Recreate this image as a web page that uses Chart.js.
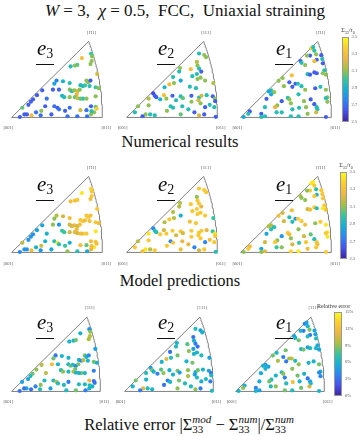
<!DOCTYPE html>
<html lang="en">
<head>
<meta charset="UTF-8">
<title>IPF stress maps</title>
<script src="https://cdn.jsdelivr.net/npm/chart.js"></script>
<style>
  body { margin: 0; background: #fff; }
  #fig { position: relative; width: 361px; height: 436px; overflow: hidden;
         font-family: "Liberation Serif", "DejaVu Serif", serif; color: #111; }
  #fig canvas { position: absolute; }
  .abs { position: absolute; white-space: nowrap; }
  .c { transform: translate(-50%, -50%); }
  .title { font-size: 17px; }
  .cap { font-size: 16.5px; }
  .elab { font-size: 21px; font-style: italic; line-height: 15px; padding: 0 1px 3px 1px;
          border-bottom: 1.2px solid #111; }
  .elab sub { font-style: normal; font-size: 14px; vertical-align: -3px; }
  .tiny { font-size: 4.5px; color: #555; }
  .cbl { font-size: 6px; color: #333; }
  .cbl sub { font-size: 4px; }
  .cbar { position: absolute; border: 0.8px solid #999; box-sizing: border-box; }
  .mm { display: inline-flex; flex-direction: column; vertical-align: 7px; line-height: 10px; font-size: 11px; }
</style>
</head>
<body>
<div id="fig">
  <div class="abs c title" style="left:185px; top:11px;"><i>W</i> = 3,&nbsp; <i>χ</i> = 0.5,&nbsp; FCC,&nbsp; Uniaxial straining</div>
  <div class="abs c cap" style="left:180px; top:142px;">Numerical results</div>
  <div class="abs c cap" style="left:180px; top:281px;">Model predictions</div>
  <div class="abs c cap" style="left:189px; top:424px;">Relative error |Σ<span class="mm"><i>mod</i><span>33</span></span> − Σ<span class="mm"><i>num</i><span>33</span></span>|/Σ<span class="mm"><i>num</i><span>33</span></span></div>
</div>
<script>
// grain positions in the [001]-[011]-[111] triangle ([011] at x = 100), one set per column
const posE3 = [[77.4,66.3],[87.5,71.0],[88.6,68.0],[88.2,63.0],[86.9,59.6],[69.7,57.9],[72.4,58.6],[65.0,56.9],[94.3,48.5],[49.5,41.1],
  [47.1,37.7],[56.6,40.4],[82.5,41.1],[84.2,39.4],[86.9,41.1],[64.0,38.4],[75.8,36.0],[78.5,35.0],[80.8,35.7],[85.9,35.0],
  [92.6,33.7],[96.0,32.7],[33.7,30.3],[45.5,31.0],[52.2,31.0],[64.0,31.0],[66.3,29.3],[69.0,30.3],[72.4,29.3],[75.1,31.0],
  [71.7,25.9],[64.0,22.6],[69.7,22.6],[72.4,21.5],[78.5,20.9],[82.5,20.9],[92.6,23.6],[27.9,24.9],[23.6,20.2],[38.7,20.9],
  [55.6,24.2],[57.9,22.6],[21.2,17.5],[18.5,14.1],[37.0,12.5],[47.1,12.5],[50.5,10.8],[52.2,9.1],[58.9,7.4],[64.0,10.8],
  [75.8,8.1],[82.5,8.1],[87.5,12.5],[92.6,11.8],[93.6,9.8],[90.9,5.7],[87.5,3.4],[11.8,10.8],[16.8,3.4],[14.1,3.4],
  [21.9,2.4],[26.9,5.7],[32.7,7.4],[32.0,2.4],[43.8,3.4],[61.6,1.3],[72.4,1.3],[83.2,1.3],[9.1,0.5],[88.0,7.0],
  [75.8,20.9]];
const posE2 = [[79.8,71.4],[85.5,69.7],[87.5,67.3],[77.4,62.0],[78.1,57.9],[79.8,54.5],[70.7,53.9],[58.9,55.2],[57.9,51.2],[82.2,51.2],
  [77.4,48.5],[72.4,46.1],[81.5,44.4],[86.5,41.1],[51.2,45.1],[78.1,42.8],[59.6,41.1],[47.1,37.0],[52.2,38.4],[95.5,38.4],
  [69.7,34.3],[76.4,32.7],[41.8,33.7],[29.3,26.9],[31.0,24.2],[32.7,22.6],[41.1,24.9],[43.8,20.9],[24.2,20.9],[37.0,20.2],
  [50.5,24.2],[59.6,23.6],[62.0,21.5],[71.4,24.2],[79.8,22.2],[82.5,24.2],[88.2,24.9],[94.9,23.6],[97.3,20.9],[97.6,18.2],
  [81.5,15.8],[71.4,17.5],[79.1,19.2],[54.5,19.2],[48.5,12.5],[51.2,10.8],[61.3,12.5],[68.0,9.1],[86.5,11.4],[91.6,14.1],
  [96.6,11.4],[12.5,12.5],[9.1,5.7],[20.9,3.4],[25.9,3.4],[17.5,1.3],[31.0,2.4],[44.4,7.4],[74.7,5.7],[79.8,2.4],
  [85.5,3.4],[98.3,0.7],[59.6,3.4],[24.2,13.5]];
const posE1 = [[77.9,77.2],[79.9,78.5],[81.2,74.5],[83.2,70.5],[76.5,69.1],[73.2,69.1],[88.9,69.5],[83.9,64.4],[81.2,62.8],[89.9,65.1],
  [90.6,60.4],[71.1,58.4],[66.0,63.0],[67.1,61.0],[56.4,47.0],[46.3,44.0],[73.8,48.3],[76.5,47.7],[81.2,50.3],[92.3,52.7],
  [94.0,47.7],[90.6,49.3],[83.9,49.3],[41.9,40.9],[53.7,39.3],[60.4,37.6],[63.1,37.6],[67.1,34.9],[71.1,30.9],[47.7,34.9],
  [57.0,34.2],[82.2,32.6],[87.9,34.2],[94.0,30.9],[95.6,22.5],[94.0,21.5],[63.8,25.8],[33.6,30.2],[36.9,28.2],[30.9,29.2],
  [28.5,20.8],[33.6,25.8],[52.0,21.8],[53.7,20.1],[45.3,18.1],[40.3,13.4],[37.9,11.4],[26.8,11.4],[77.2,20.1],[69.8,18.1],
  [55.4,15.8],[81.2,14.8],[83.9,11.4],[84.6,9.1],[83.2,5.7],[72.1,11.4],[64.4,10.7],[57.0,9.1],[45.3,5.7],[39.6,5.7],
  [22.8,4.0],[26.8,1.3],[10.1,6.7],[8.4,4.0],[3.4,0.5],[22.8,0.5],[55.4,1.3],[63.8,1.3],[73.8,4.0],[94.0,0.5],
  [95.6,17.4]];

// Sigma33 / tau0, numerical results
const numE3 = [3.3,3.0,3.1,3.1,3.1,3.1,3.05,2.95,3.2,2.75, 2.85,2.9,3.1,3.1,2.65,2.95,2.95,2.9,3.0,2.95,
  3.0,3.1,2.65,2.65,2.65,3.1,2.95,3.1,3.2,3.1, 3.25,3.1,3.05,3.2,2.95,3.1,3.1,2.65,2.65,2.7,
  2.9,2.95,2.65,2.65,2.65,2.7,2.65,2.7,2.65,2.7, 3.2,2.7,2.65,3.05,3.35,3.1,3.1,3.05,2.65,2.65,
  3.3,2.7,3.1,2.7,2.65,2.7,2.7,2.7,2.65,2.95, 3.05];
const numE2 = [2.95,3.1,3.1,3.15,3.1,2.95,3.3,3.1,2.95,2.65, 2.95,2.95,3.1,3.1,2.95,3.1,2.85,3.3,3.1,3.15,
  2.95,2.95,2.9,2.6,2.65,2.65,3.3,3.1,3.15,2.9, 2.65,2.95,3.05,2.65,2.95,3.2,2.95,2.65,3.1,2.65,
  3.1,3.1,3.2,2.95,2.95,2.95,2.95,2.95,2.65,2.95, 2.95,3.1,2.95,3.1,2.95,2.65,2.95,3.1,2.65,3.2,
  2.65,2.65,3.05,3.1];
const numE1 = [3.35,2.95,2.95,3.1,2.65,3.1,2.65,2.65,3.3,2.95, 2.65,3.1,2.65,2.95,3.3,3.1,2.95,2.65,2.65,2.95,
  3.1,3.1,2.65,3.1,2.65,2.65,2.95,2.95,3.1,3.1, 2.65,2.65,2.95,3.1,3.1,2.95,2.95,2.95,3.1,2.85,
  2.65,2.85,2.95,3.1,2.65,3.1,3.25,2.95,2.65,3.1, 3.1,2.65,2.95,2.95,3.2,3.1,2.95,2.95,2.95,2.95,
  2.65,2.95,2.65,2.95,2.85,2.95,2.95,2.95,3.1,2.65, 3.1];

// Sigma33 / tau0, model predictions
const modE3 = [3.45,3.4,3.35,3.35,3.3,3.3,3.35,3.3,3.35,3.15, 3.1,3.2,3.35,3.35,3.3,3.3,3.35,3.35,3.3,3.3,
  3.35,3.3,2.85,3.1,2.8,3.2,3.2,3.25,3.2,3.3, 3.3,3.2,3.25,3.2,3.3,3.35,3.45,2.85,2.8,2.9,
  3.0,3.0,2.8,2.8,2.9,2.95,3.45,2.95,3.0,2.9, 3.3,3.05,3.3,3.35,3.3,3.45,3.25,3.15,2.8,2.8,
  3.3,2.9,3.2,2.8,2.85,3.1,2.95,2.85,2.75,3.3, 3.3];
const modE2 = [3.35,3.35,3.35,3.1,3.35,3.35,3.35,3.15,3.15,3.25, 3.35,3.35,3.35,3.35,3.15,3.35,2.9,3.35,3.15,3.0,
  3.3,3.35,3.15,2.75,2.95,2.95,3.2,3.35,3.45,3.35, 3.35,3.35,3.2,3.35,3.35,3.35,3.25,3.0,3.45,3.35,
  3.35,3.35,3.35,3.2,2.75,3.35,3.25,3.25,2.75,3.3, 3.35,3.15,3.35,3.45,3.15,3.3,3.35,3.35,2.75,3.2,
  3.35,2.95,3.3,3.35];
const modE1 = [3.45,3.45,3.35,2.95,3.35,3.1,3.35,2.9,3.35,3.35, 3.35,3.1,3.15,3.1,3.3,3.2,3.2,3.3,3.35,3.35,
  3.3,3.45,2.95,3.3,2.95,2.8,3.35,3.35,3.3,3.2, 2.95,3.1,3.35,3.45,3.45,3.35,3.1,3.15,2.95,3.15,
  2.85,2.95,3.35,3.3,2.8,3.1,3.35,3.2,3.05,3.2, 3.1,2.95,3.35,3.3,3.35,3.35,3.0,3.2,3.1,3.0,
  2.85,3.25,3.3,3.35,3.1,3.1,3.4,3.45,3.3,3.35, 3.45];

// relative error in %
const errE3 = [6,4.5,9,10,9.5,6,8.5,6,5,3, 8.5,6,8.5,6,4,6,6,3.5,10,6,
  8.5,6,10,12,6,6,8.5,6.5,3.5,8.5, 8.5,6.5,10,6,8.5,6,3.5,9,8.5,10,
  6.5,9,6.5,5,6.5,6.5,10,6.5,6.5,3.5, 6.5,6.5,11.5,3,3,6,6,5,5.5,3,
  3,3.5,9,6.5,5,6.5,8.5,3.5,3,6.5, 6];
const errE2 = [6.5,5,6,3,6,3.5,8,6,6.5,3, 5,9,6,6.5,3,6,8.5,11,6.5,5,
  6,8.5,6,4.5,8.5,6,8,9,6.5,3.5, 6,8.5,5,9,6,8.5,6,5,3,6.5,
  6.5,9.5,5,6,3.5,6,8.5,6.5,6,6.5, 3.5,8.5,6,11,6.5,3.5,6,3,6.5,9,
  3.5,6.5,9,6];
const errE1 = [3,5,6,8.5,3.5,6,5,3,6.5,5, 6.5,8.5,5,6,8.5,6.5,6,8.5,5,5.5,
  5,6,6.5,8.5,3.5,9.5,10,6.5,9,9.5, 3.5,6,6,8.5,6,4,9,5,5,6,
  5.5,6,6.5,9,6,6.5,8.5,5.5,6,8.5, 3.5,3,5,6,10.5,6,12,6.5,9,6.5,
  3.5,5,6,9,6,6,8.5,6.5,8.5,6, 4];

const stressTicks = ['3.5', '3.3', '3.1', '2.9', '2.7', '2.5'];
const errTicks = ['15%', '12%', '9%', '6%', '3%', '0%'];
const panelNames = ['3', '2', '1'];

// parula, sampled at 0, 1/8, ..., 1
const parulaStops = [[62,38,168],[70,84,240],[44,133,246],[18,176,215],[52,198,156],
  [165,192,66],[236,182,66],[252,204,46],[249,250,20]];

function parula(t) {
  t = Math.max(0, Math.min(1, t));
  const n = parulaStops.length - 1;
  const i = Math.min(n - 1, Math.floor(t * n));
  const f = t * n - i;
  const a = parulaStops[i], b = parulaStops[i + 1];
  return 'rgb(' + a.map((v, j) => Math.round(v + (b[j] - v) * f)).join(',') + ')';
}

// equal-area projection, scaled so that [011] sits at x = 100
const R011 = Math.sqrt(2 * (1 - Math.SQRT1_2));
function project(h, k, l) {
  const n = Math.hypot(h, k, l);
  const r = Math.sqrt(2 * (1 - l / n));
  const p = Math.hypot(h, k);
  return { x: r * k / p / R011 * 100, y: r * h / p / R011 * 100 };
}
const outline = [{ x: 0, y: 0 }];
for (let i = 0; i <= 40; i++) outline.push(project(i / 40, 1, 1));
outline.push({ x: 0, y: 0 });
const apex = project(1, 1, 1);

const fig = document.getElementById('fig');
function addText(html, cls, style) {
  const d = document.createElement('div');
  d.className = 'abs ' + cls;
  d.setAttribute('style', style);
  d.innerHTML = html;
  fig.appendChild(d);
  return d;
}

const rows = [
  { base: 121, x0: [8.3, 122.7, 237.3], bw: 98, sets: [[posE3, numE3], [posE2, numE2], [posE1, numE1]], lo: 2.5, hi: 3.5,
    bar: { left: 341.5, top: 37, w: 7, h: 85 }, ticks: stressTicks },
  { base: 256.5, x0: [8.3, 122.7, 237.3], bw: 98, sets: [[posE3, modE3], [posE2, modE2], [posE1, modE1]], lo: 2.5, hi: 3.5,
    bar: { left: 339.5, top: 172, w: 7, h: 87 }, ticks: stressTicks },
  { base: 394.5, x0: [8.3, 120.5, 231.7], bw: 96, sets: [[posE3, errE3], [posE2, errE2], [posE1, errE1]], lo: 0, hi: 15,
    bar: { left: 334, top: 312, w: 8, h: 84 }, ticks: errTicks }
];
const eLeft = [36, 157, 275];

rows.forEach((row, r) => {
  const k = row.bw / 100;
  const m = 5;
  const hgt = apex.y * k;
  row.sets.forEach((set, c) => {
    const [pos, vals] = set;
    const x0 = row.x0[c];
    const cv = document.createElement('canvas');
    cv.width = Math.round(row.bw + 2 * m);
    cv.height = Math.round(hgt + 2 * m);
    cv.style.left = (x0 - m) + 'px';
    cv.style.top = (row.base - hgt - m) + 'px';
    fig.appendChild(cv);
    const colors = vals.map(v => parula((v - row.lo) / (row.hi - row.lo)));
    new Chart(cv, {
      type: 'scatter',
      data: {
        datasets: [
          { data: outline, showLine: true, borderColor: '#808080', borderWidth: 1, pointRadius: 0, fill: false, order: 1 },
          { data: pos.map(p => ({ x: p[0], y: p[1] })), backgroundColor: colors, pointBackgroundColor: colors,
            pointBorderWidth: 0, borderWidth: 0, pointRadius: 2.1, order: 0 }
        ]
      },
      options: {
        responsive: false, animation: false, events: [],
        layout: { padding: 0 },
        plugins: { legend: { display: false }, tooltip: { enabled: false } },
        scales: {
          x: { type: 'linear', display: false, min: -m / k, max: (cv.width - m) / k },
          y: { type: 'linear', display: false, min: -m / k, max: (cv.height - m) / k }
        }
      }
    });
    addText('[001]', 'c tiny', `left:${x0}px; top:${row.base + 6}px;`);
    addText('[011]', 'c tiny', `left:${x0 + row.bw}px; top:${row.base + 6}px;`);
    addText('[1&#772;11]', 'c tiny', `left:${x0 + apex.x * k}px; top:${row.base - hgt - 6}px;`);
    addText('e<sub>' + panelNames[c] + '</sub>', 'elab', `left:${eLeft[c]}px; top:${row.base - 80}px;`);
  });

  // colour bar
  const b = row.bar;
  const grad = parulaStops.slice().reverse().map(s => 'rgb(' + s.join(',') + ')').join(',');
  addText('', 'cbar', `left:${b.left}px; top:${b.top}px; width:${b.w}px; height:${b.h}px; background:linear-gradient(${grad});`);
  row.ticks.forEach((t, i) => {
    addText(t, 'tiny', `left:${b.left + b.w + 3}px; top:${b.top + i * b.h / (row.ticks.length - 1) - 3}px;`);
  });
});

addText('Σ<sub>33</sub>/<i>τ</i><sub>0</sub>', 'c cbl', 'left:348px; top:31px;');
addText('Σ<sub>33</sub>/<i>τ</i><sub>0</sub>', 'c cbl', 'left:346px; top:166px;');
addText('Relative error', 'cbl', 'left:317px; top:303px;');
</script>
</body>
</html>
